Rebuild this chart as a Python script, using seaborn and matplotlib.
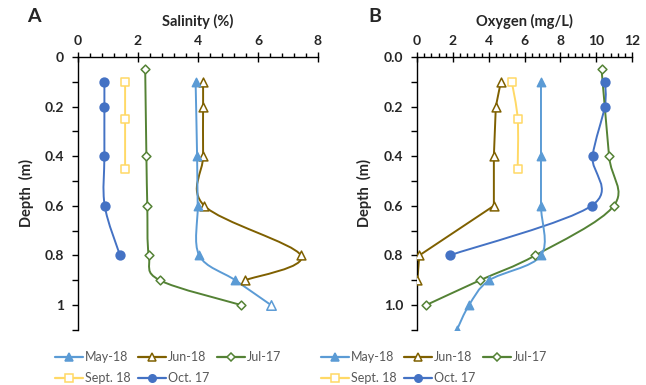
import numpy as np
import matplotlib
matplotlib.use("Agg")
import matplotlib.pyplot as plt
from matplotlib.path import Path
from matplotlib.patches import PathPatch
from matplotlib.lines import Line2D
from matplotlib.ticker import MultipleLocator, FormatStrFormatter
import seaborn as sns

# ---------------- data ----------------
series_names = ["May-18", "Jun-18", "Jul-17", "Sept. 18", "Oct. 17"]

# Salinity (%) panel A
sal_may_x = [3.92, 3.97, 3.99, 4.04, 5.24, 6.43]
sal_may_y = [0.1, 0.4, 0.6, 0.8, 0.9, 1.0]
sal_jun_x = [4.17, 4.17, 4.17, 4.21, 7.43, 5.58]
sal_jun_y = [0.1, 0.2, 0.4, 0.6, 0.8, 0.9]
sal_jul_x = [2.24, 2.28, 2.31, 2.36, 2.72, 5.43]
sal_jul_y = [0.05, 0.4, 0.6, 0.8, 0.9, 1.0]
sal_sep_x = [1.57, 1.57, 1.57]
sal_sep_y = [0.1, 0.25, 0.45]
sal_oct_x = [0.88, 0.88, 0.88, 0.89, 1.40]
sal_oct_y = [0.1, 0.2, 0.4, 0.6, 0.8]

# Oxygen (mg/L) panel B
oxy_may_x = [6.92, 6.92, 6.92, 6.92, 4.04, 2.91, 2.23]
oxy_may_y = [0.1, 0.4, 0.6, 0.8, 0.9, 1.0, 1.1]
oxy_jun_x = [4.68, 4.40, 4.29, 4.29, 0.13, 0.02]
oxy_jun_y = [0.1, 0.2, 0.4, 0.6, 0.8, 0.9]
oxy_jul_x = [10.30, 10.72, 10.98, 6.60, 3.52, 0.52]
oxy_jul_y = [0.05, 0.4, 0.6, 0.8, 0.9, 1.0]
oxy_sep_x = [5.29, 5.62, 5.62]
oxy_sep_y = [0.1, 0.25, 0.45]
oxy_oct_x = [10.50, 10.48, 9.80, 9.74, 1.82]
oxy_oct_y = [0.1, 0.2, 0.4, 0.6, 0.8]

# ---------------- styles ----------------
colors = {"May-18": "#5B9BD5", "Jun-18": "#7F6000", "Jul-17": "#548235",
          "Sept. 18": "#FFD966", "Oct. 17": "#4472C4"}
markers = {"May-18": "^", "Jun-18": "^", "Jul-17": "D", "Sept. 18": "s", "Oct. 17": "o"}
filled = {"May-18": True, "Jun-18": False, "Jul-17": False, "Sept. 18": False, "Oct. 17": True}
msize = {"May-18": 36, "Jun-18": 40, "Jul-17": 20, "Sept. 18": 36, "Oct. 17": 40}

sns.set_theme(style="white")
plt.rcParams["font.family"] = ["Lato", "DejaVu Sans"]


def smooth_path(xs, ys, smooth=True):
    pts = np.column_stack([xs, ys]).astype(float)
    n = len(pts)
    if not smooth:
        return Path(pts, [Path.MOVETO] + [Path.LINETO] * (n - 1))
    verts = [pts[0]]
    codes = [Path.MOVETO]
    for i in range(n - 1):
        p0 = pts[i - 1] if i > 0 else pts[i]
        p1 = pts[i]
        p2 = pts[i + 1]
        p3 = pts[i + 2] if i + 2 < n else pts[i + 1]
        c1 = p1 + (p2 - p0) / 6.0
        c2 = p2 - (p3 - p1) / 6.0
        verts += [c1, c2, p2]
        codes += [Path.CURVE4] * 3
    return Path(verts, codes)


def draw_series(ax, name, xs, ys, hollow_last=False, smooth=True):
    c = colors[name]
    ax.add_patch(PathPatch(smooth_path(xs, ys, smooth), facecolor="none", edgecolor=c,
                           lw=1.4, zorder=2))
    fx, fy = (xs[:-1], ys[:-1]) if hollow_last else (xs, ys)
    fc = c if filled[name] else "white"
    sns.scatterplot(x=fx, y=fy, ax=ax, marker=markers[name], s=msize[name],
                    facecolor=fc, edgecolor=c, linewidth=1.1, zorder=3, legend=False)
    if hollow_last:
        sns.scatterplot(x=xs[-1:], y=ys[-1:], ax=ax, marker=markers[name], s=msize[name] + 10,
                        facecolor="white", edgecolor=c, linewidth=1.1, zorder=3, legend=False)


fig = plt.figure(figsize=(6.46, 3.85), dpi=100)
axA = fig.add_axes([78 / 646, 0.1434, 240 / 646, 0.7086])
axB = fig.add_axes([417 / 646, 0.1434, 215 / 646, 0.7086])

draw_series(axA, "Oct. 17", sal_oct_x, sal_oct_y)
draw_series(axA, "Sept. 18", sal_sep_x, sal_sep_y)
draw_series(axA, "Jul-17", sal_jul_x, sal_jul_y)
draw_series(axA, "Jun-18", sal_jun_x, sal_jun_y)
draw_series(axA, "May-18", sal_may_x, sal_may_y, hollow_last=True)

draw_series(axB, "Oct. 17", oxy_oct_x, oxy_oct_y)
draw_series(axB, "Sept. 18", oxy_sep_x, oxy_sep_y)
draw_series(axB, "Jul-17", oxy_jul_x, oxy_jul_y)
draw_series(axB, "Jun-18", oxy_jun_x, oxy_jun_y, smooth=False)
draw_series(axB, "May-18", oxy_may_x, oxy_may_y)

for ax, xmax, title, yfmt in [(axA, 8, "Salinity (%)", None), (axB, 12, "Oxygen (mg/L)", "%.1f")]:
    ax.set_xlim(0, xmax)
    ax.set_ylim(1.1, 0)
    ax.xaxis.set_major_locator(MultipleLocator(2))
    ax.xaxis.set_minor_locator(MultipleLocator(0.4))
    ax.yaxis.set_major_locator(MultipleLocator(0.2))
    ax.yaxis.set_minor_locator(MultipleLocator(0.1))
    if yfmt:
        ax.yaxis.set_major_formatter(FormatStrFormatter(yfmt))
    else:
        ax.yaxis.set_major_formatter(matplotlib.ticker.FuncFormatter(
            lambda v, p: ("%g" % round(v, 2))))
    ax.xaxis.tick_top()
    ax.xaxis.set_label_position("top")
    for s in ["right", "bottom"]:
        ax.spines[s].set_visible(False)
    for s in ["left", "top"]:
        ax.spines[s].set_color("black")
        ax.spines[s].set_linewidth(1.0)
    ax.tick_params(axis="x", which="major", top=True, bottom=False, direction="inout",
                   length=7, width=1, color="black", labelsize=10, pad=4)
    ax.tick_params(axis="x", which="minor", top=True, bottom=False, direction="out",
                   length=3, width=1, color="black")
    ax.tick_params(axis="y", which="major", left=True, direction="out",
                   length=4, width=1, color="black", labelsize=10, pad=6)
    ax.tick_params(axis="y", which="minor", left=True, direction="out",
                   length=4, width=1, color="black")
    for lab in ax.get_xticklabels() + ax.get_yticklabels():
        lab.set_fontweight("bold")
    ax.set_xlabel(title, fontsize=10.5, fontweight="bold", labelpad=6)
    ax.set_ylabel("Depth  (m)", fontsize=10.5, fontweight="bold", labelpad=8)
    ax.set_facecolor("white")

fig.text(27 / 646, 1 - 16 / 385, "A", fontsize=14, fontweight="bold", ha="left", va="center")
fig.text(368 / 646, 1 - 16 / 385, "B", fontsize=14, fontweight="bold", ha="left", va="center")


def make_handle(name):
    c = colors[name]
    return Line2D([0], [0], color=c, lw=1.6, marker=markers[name],
                  markersize=np.sqrt(msize[name]) * 0.85,
                  markerfacecolor=c if filled[name] else "white",
                  markeredgecolor=c, markeredgewidth=1.1)


order = ["May-18", "Sept. 18", "Jun-18", "Oct. 17", "Jul-17"]
for ax, x0 in [(axA, 50 / 646), (axB, 316 / 646)]:
    fig.legend([make_handle(n) for n in order], order, ncol=3, loc="upper left",
               bbox_to_anchor=(x0, 1 - 346 / 385), frameon=False, fontsize=9,
               labelcolor="#595959", handlelength=2.2, handletextpad=0.2,
               columnspacing=0.6, labelspacing=0.75, borderaxespad=0)

fig.savefig("out.png", dpi=100, facecolor="white")
